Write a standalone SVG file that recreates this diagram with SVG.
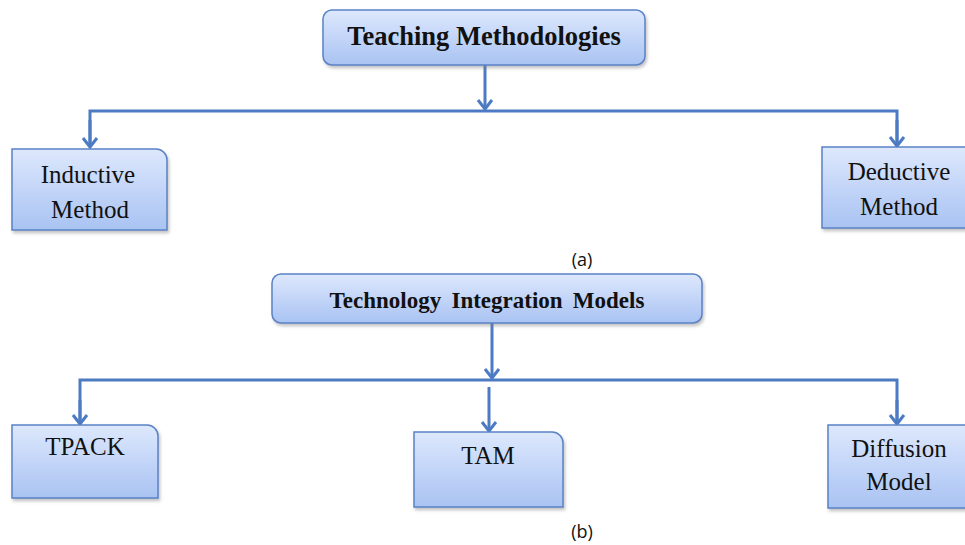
<svg xmlns="http://www.w3.org/2000/svg" width="965" height="545" viewBox="0 0 965 545">
<style>
.box{fill:url(#g);stroke:#5a82c6;stroke-width:1.5;filter:url(#sh)}
.conn{fill:none;stroke:#4d7bc3;stroke-width:3}
.ttl{font-family:"Liberation Serif",serif;font-weight:bold;fill:#111;text-anchor:middle}
.lbl{font-family:"Liberation Serif",serif;font-size:25px;fill:#111;text-anchor:middle}
.cap{font-family:"Open Sans","Noto Sans",sans-serif;font-size:18px;fill:#111;text-anchor:middle}
</style>
<defs>
<linearGradient id="g" x1="0" y1="0" x2="0" y2="1">
<stop offset="0" stop-color="#dde8fc"/>
<stop offset="0.5" stop-color="#c3d5f8"/>
<stop offset="1" stop-color="#a9c3f2"/>
</linearGradient>
<filter id="sh" x="-10%" y="-10%" width="130%" height="140%">
<feDropShadow dx="1.5" dy="2.5" stdDeviation="1.5" flood-color="#7a7a7a" flood-opacity="0.45"/>
</filter>
<marker id="ah" markerWidth="20" markerHeight="20" refX="10" refY="10" orient="auto" markerUnits="userSpaceOnUse">
<path d="M1,3 L10,10 L1,17" fill="none" stroke="#4d7bc3" stroke-width="3"/>
</marker>
</defs>
<rect width="965" height="545" fill="#ffffff"/>
<g id="connectors">
<line class="conn" x1="485" y1="65" x2="485" y2="109" marker-end="url(#ah)"/>
<polyline class="conn" points="90,147 90,111 897,111 897,146"/>
<line class="conn" x1="90" y1="120" x2="90" y2="147" marker-end="url(#ah)"/>
<line class="conn" x1="897" y1="120" x2="897" y2="146" marker-end="url(#ah)"/>
<line class="conn" x1="492" y1="323" x2="492" y2="378" marker-end="url(#ah)"/>
<polyline class="conn" points="80,424 80,380 897,380 897,424"/>
<line class="conn" x1="80" y1="400" x2="80" y2="424" marker-end="url(#ah)"/>
<line class="conn" x1="897" y1="400" x2="897" y2="424" marker-end="url(#ah)"/>
<line class="conn" x1="489" y1="387" x2="489" y2="431" marker-end="url(#ah)"/>
</g>
<g id="teaching">
<rect class="box" x="323" y="10" width="322" height="55" rx="9"/>
<text class="ttl" x="484" y="45" font-size="26.5">Teaching Methodologies</text>
</g>
<g id="inductive">
<path class="box" d="M12,149 H156 A11,11 0 0 1 167,160 V230 H12 Z"/>
<text class="lbl" x="88" y="183">Inductive</text>
<text class="lbl" x="90" y="218">Method</text>
</g>
<g id="deductive">
<path class="box" d="M822,147 H972 V228 H822 Z"/>
<text class="lbl" x="899" y="180">Deductive</text>
<text class="lbl" x="899" y="215">Method</text>
</g>
<text class="cap" x="582" y="266">(a)</text>
<g id="tim">
<rect class="box" x="272" y="274" width="430" height="49" rx="9"/>
<text class="ttl" x="487" y="308" font-size="23" word-spacing="4.5">Technology Integration Models</text>
</g>
<g id="tpack">
<path class="box" d="M12,425 H147 A11,11 0 0 1 158,436 V498 H12 Z"/>
<text class="lbl" x="85" y="455">TPACK</text>
</g>
<g id="tam">
<path class="box" d="M414,432 H552 A11,11 0 0 1 563,443 V507 H414 Z"/>
<text class="lbl" x="488" y="464">TAM</text>
</g>
<g id="diffusion">
<path class="box" d="M828,425 H972 V508 H828 Z"/>
<text class="lbl" x="899" y="457">Diffusion</text>
<text class="lbl" x="899" y="490">Model</text>
</g>
<text class="cap" x="582" y="538">(b)</text>
</svg>
